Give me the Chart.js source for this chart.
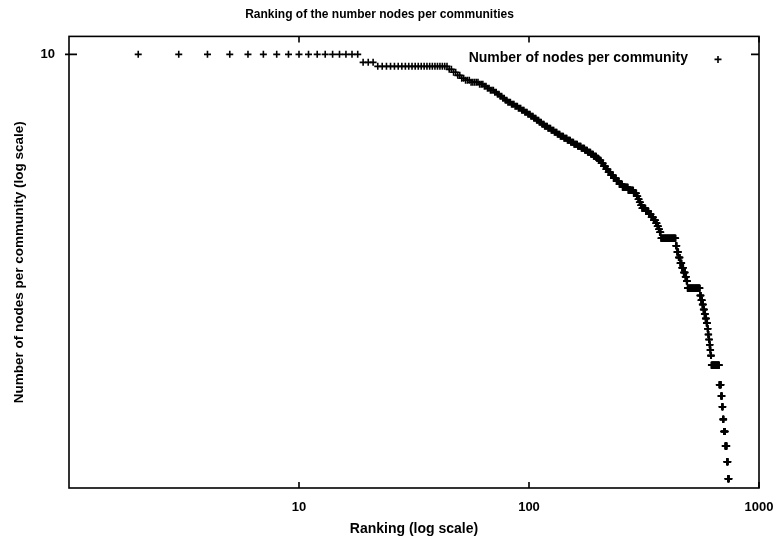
<!DOCTYPE html>
<html>
<head>
<meta charset="utf-8">
<script src="https://cdn.jsdelivr.net/npm/chart.js@4/dist/chart.umd.min.js"></script>
<style>
  html, body { margin: 0; padding: 0; background: #fff; }
  #wrap { width: 782px; height: 543px; }
</style>
</head>
<body>
<div id="wrap"><canvas id="rankChart"></canvas></div>
<script>
// Labels
const chartTitle = "Ranking of the number nodes per communities";
const seriesName = "Number of nodes per community";
const xTitle = "Ranking (log scale)";
const yTitle = "Number of nodes per community (log scale)";

// Tick labels shown on the axes
const xTicks = [10, 100, 1000];
const yTicks = [10];

// Read off the picture as runs: from rank runStart[i] on, the value is runNodes[i]
// (a run lasts until the next one starts, the last one ends at lastRank)
const runStart = [2, 19, 22, 45, 47, 49, 51, 53, 56, 61, 64, 66, 68, 71, 73, 75, 77, 79, 81, 84,
                  87, 90, 93, 96, 99, 102, 105, 108, 111, 114, 117, 121, 125, 129, 133, 137, 142, 147, 152, 157,
                  163, 169, 175, 180, 186, 191, 197, 201, 206, 211, 216, 221, 227, 233, 240, 247, 255, 270, 285, 294,
                  298, 302, 306, 310, 322, 332, 340, 348, 356, 361, 366, 370, 375,
                  435, 440, 447, 454, 462, 470, 478, 484, 489,
                  554, 560, 567, 573, 579, 585, 591, 597, 601, 605, 609, 613, 617, 621,
                  672, 684, 691, 697, 703, 713, 725, 733];
const runNodes = [10, 9.585, 9.383, 9.235, 9.09, 8.946, 8.805, 8.712, 8.62, 8.529, 8.439, 8.35, 8.262, 8.175, 8.089, 8.004, 7.919, 7.836, 7.753, 7.672,
                  7.591, 7.511, 7.431, 7.353, 7.275, 7.198, 7.122, 7.047, 6.973, 6.899, 6.826, 6.754, 6.683, 6.612, 6.542, 6.473, 6.405, 6.337, 6.27, 6.204,
                  6.139, 6.074, 6.01, 5.946, 5.884, 5.821, 5.76, 5.699, 5.609, 5.52, 5.433, 5.347, 5.263, 5.179, 5.097, 5.017, 4.937, 4.86, 4.783, 4.707,
                  4.633, 4.56, 4.488, 4.417, 4.347, 4.278, 4.211, 4.144, 4.079, 4.014, 3.951, 3.889, 3.767,
                  3.62, 3.5, 3.4, 3.3, 3.22, 3.14, 3.07, 3.0, 2.89,
                  2.78, 2.71, 2.65, 2.58, 2.52, 2.46, 2.4, 2.33, 2.26, 2.2, 2.14, 2.08, 2.02, 1.92,
                  1.73, 1.63, 1.54, 1.44, 1.35, 1.25, 1.15, 1.05];
const lastRank = 740;

// one point per rank
let points = [];
for (let i = 0; i < runStart.length; i++) {
    let end = i + 1 < runStart.length ? runStart[i + 1] - 1 : lastRank;
    for (let r = runStart[i]; r <= end; r++) {
        points.push({x: r, y: runNodes[i]});
    }
}

const font = '"Liberation Sans", Arial, sans-serif';

// gnuplot style box, inward ticks and key inside the plot
const framePlugin = {
    id: 'frame',
    afterDraw(chart) {
        const {ctx, chartArea: a, scales: {x, y}} = chart;
        ctx.save();
        ctx.strokeStyle = '#000';
        ctx.lineWidth = 1.6;
        ctx.strokeRect(a.left, a.top, a.right - a.left, a.bottom - a.top);
        ctx.beginPath();
        x.ticks.forEach(t => {
            let px = x.getPixelForValue(t.value);
            ctx.moveTo(px, a.bottom); ctx.lineTo(px, a.bottom - 6);
            ctx.moveTo(px, a.top); ctx.lineTo(px, a.top + 6);
        });
        y.ticks.forEach(t => {
            let py = y.getPixelForValue(t.value);
            ctx.moveTo(a.left - 4, py); ctx.lineTo(a.left + 8, py);
            ctx.moveTo(a.right, py); ctx.lineTo(a.right - 8, py);
        });
        ctx.stroke();

        // key
        ctx.fillStyle = '#000';
        ctx.font = 'bold 14px ' + font;
        ctx.textAlign = 'right';
        ctx.textBaseline = 'middle';
        ctx.fillText(seriesName, a.right - 71, a.top + 22);
        Chart.helpers.drawPoint(ctx, {pointStyle: 'cross', radius: 3.5, borderWidth: 1.6}, a.right - 41, a.top + 23);
        ctx.restore();
    }
};

const ctx = document.getElementById('rankChart').getContext('2d');
new Chart(ctx, {
    type: 'scatter',
    data: {
        datasets: [{
            label: seriesName,
            data: points,
            pointStyle: 'cross',
            pointRadius: 3.5,
            pointBorderWidth: 1.6,
            borderColor: '#000',
            backgroundColor: '#000'
        }]
    },
    options: {
        responsive: true,
        maintainAspectRatio: false,
        animation: false,
        layout: { padding: { left: 0, right: 23, top: 0, bottom: 0 } },
        plugins: {
            legend: { display: false },
            tooltip: { enabled: false },
            title: {
                display: true,
                text: chartTitle,
                color: '#000',
                font: { family: font, size: 12, weight: 'bold' },
                padding: { top: 7, bottom: 15 }
            }
        },
        scales: {
            x: {
                type: 'logarithmic',
                min: 1,
                max: 1000,
                afterBuildTicks: s => { s.ticks = xTicks.map(v => ({value: v})); },
                afterFit: s => { s.height = 55; s.paddingLeft = 0; s.paddingRight = 0; },
                grid: { display: false, drawTicks: false },
                border: { display: false },
                ticks: {
                    color: '#000',
                    padding: 12,
                    maxRotation: 0,
                    font: { family: font, size: 13, weight: 'bold' },
                    callback: v => String(v)
                },
                title: {
                    display: true,
                    text: xTitle,
                    color: '#000',
                    font: { family: font, size: 14, weight: 'bold' },
                    padding: { top: 0, bottom: 5 }
                }
            },
            y: {
                type: 'logarithmic',
                min: 1,
                max: 11,
                afterBuildTicks: s => { s.ticks = yTicks.map(v => ({value: v})); },
                afterFit: s => { s.width = 69; s.paddingTop = 0; s.paddingBottom = 0; },
                grid: { display: false, drawTicks: false },
                border: { display: false },
                ticks: {
                    color: '#000',
                    padding: 14,
                    font: { family: font, size: 13, weight: 'bold' },
                    callback: v => String(v)
                },
                title: {
                    display: true,
                    text: yTitle,
                    color: '#000',
                    font: { family: font, size: 13.5, weight: 'bold' },
                    padding: { top: 11, bottom: 0 }
                }
            }
        }
    },
    plugins: [framePlugin]
});
</script>
</body>
</html>
